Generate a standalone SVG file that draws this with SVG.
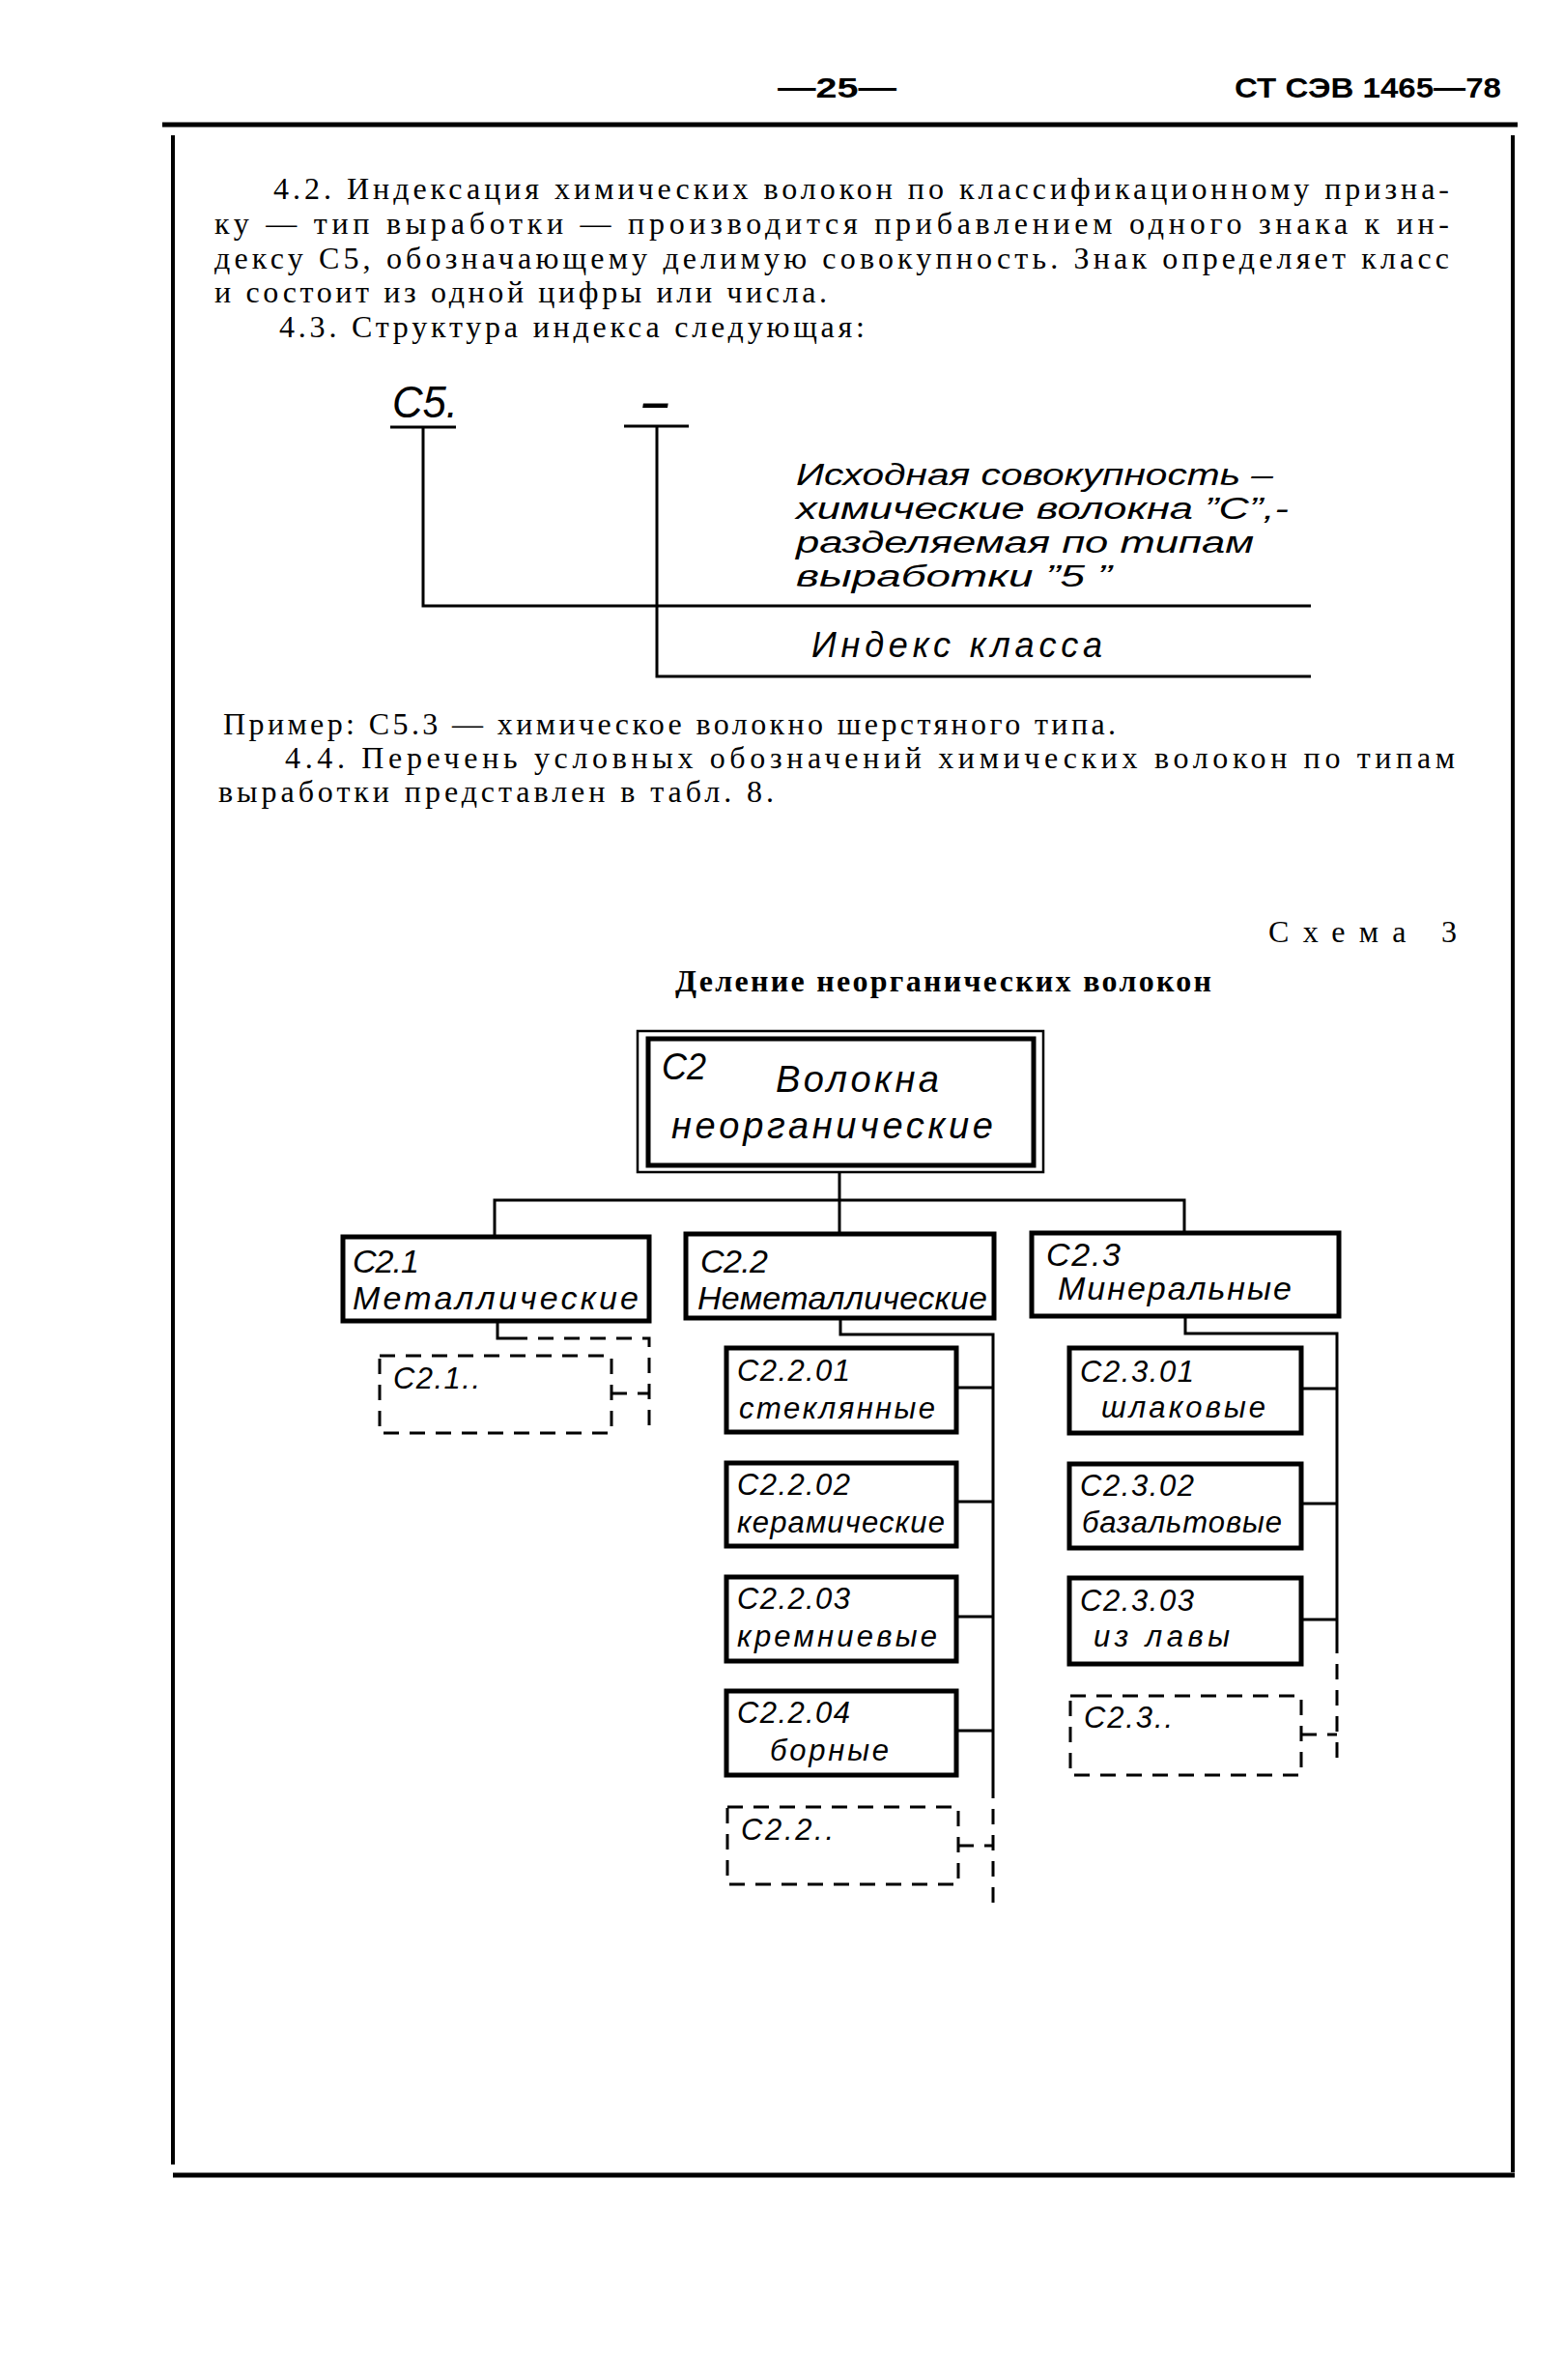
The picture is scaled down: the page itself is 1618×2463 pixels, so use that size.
<svg xmlns="http://www.w3.org/2000/svg" width="1618" height="2463" viewBox="0 0 1618 2463">
<style>
.body{font-family:"Liberation Serif",serif;font-size:32px;fill:#000}
.hd{font-family:"Liberation Sans",sans-serif;font-weight:bold;font-size:30px;fill:#000}
.hand{font-family:"Liberation Sans",sans-serif;font-style:italic;fill:#000}
.t36{font-size:36px}
.t38{font-size:38px}
.t34{font-size:34px}
.t31{font-size:31px}
.frame{stroke:#000;fill:none}
.ln{stroke:#000;stroke-width:3;fill:none}
.dl{stroke:#000;stroke-width:3;fill:none;stroke-dasharray:16 11}
.box{fill:#fff;stroke:#000;stroke-width:5}
.dbox{fill:#fff;stroke:#000;stroke-width:3;stroke-dasharray:16 11}
</style>
<rect width="1618" height="2463" fill="#fff"/>
<g id="page">
<text class="hd" x="805" y="101" font-size="32" font-weight="normal" textLength="123" lengthAdjust="spacingAndGlyphs">—25—</text>
<text class="hd" x="1278" y="101" font-size="34" textLength="276" lengthAdjust="spacingAndGlyphs">СТ СЭВ 1465—78</text>
<line class="frame" x1="168" y1="129" x2="1571" y2="129" stroke-width="5"/>
<line class="frame" x1="179" y1="140" x2="179" y2="2240" stroke-width="4"/>
<line class="frame" x1="1566" y1="140" x2="1566" y2="2248" stroke-width="4"/>
<line class="frame" x1="179" y1="2251" x2="1568" y2="2251" stroke-width="5"/>
</g>
<g id="text-top">
<text class="body" x="283" y="206" textLength="1217" lengthAdjust="spacing">4.2. Индексация химических волокон по классификационному призна-</text>
<text class="body" x="222" y="242" textLength="1278" lengthAdjust="spacing">ку — тип выработки — производится прибавлением одного знака к ин-</text>
<text class="body" x="222" y="278" textLength="1278" lengthAdjust="spacing">дексу С5, обозначающему делимую совокупность. Знак определяет класс</text>
<text class="body" x="222" y="313" textLength="634" lengthAdjust="spacing">и состоит из одной  цифры или числа.</text>
<text class="body" x="289" y="349" textLength="606" lengthAdjust="spacing">4.3. Структура индекса следующая:</text>
</g>
<g id="index-structure">
<text class="hand" x="406" y="432" font-size="46" textLength="68" lengthAdjust="spacingAndGlyphs">С5.</text>
<text class="hand" x="664" y="432" font-size="46" font-weight="bold" font-style="normal" textLength="29" lengthAdjust="spacingAndGlyphs">–</text>
<g id="label-source">
<text class="hand" font-size="31" x="824" y="502" textLength="494" lengthAdjust="spacingAndGlyphs">Исходная совокупность –</text>
<text class="hand" font-size="31" x="824" y="537" textLength="510" lengthAdjust="spacingAndGlyphs">химические волокна ”С”,-</text>
<text class="hand" font-size="31" x="824" y="572" textLength="474" lengthAdjust="spacingAndGlyphs">разделяемая по типам</text>
<text class="hand" font-size="31" x="824" y="607" textLength="327" lengthAdjust="spacingAndGlyphs">выработки ”5 ”</text>
</g>
<g id="label-class">
<text class="hand t36" x="840" y="680" textLength="301" lengthAdjust="spacing">Индекс класса</text>
</g>
</g>
<g id="connectors-structure">
<line class="ln" x1="404" y1="442" x2="472" y2="442" stroke-width="5"/>
<line class="ln" x1="646" y1="441" x2="713" y2="441" stroke-width="5"/>
<polyline class="ln" points="438,442 438,627 1357,627"/>
<polyline class="ln" points="680,441 680,700 1357,700"/>
</g>
<g id="text-middle">
<text class="body" x="231" y="760" textLength="924" lengthAdjust="spacing">Пример: С5.3 — химическое волокно шерстяного типа.</text>
<text class="body" x="295" y="795" textLength="1211" lengthAdjust="spacing">4.4. Перечень условных обозначений химических волокон по типам</text>
<text class="body" x="226" y="830" textLength="575" lengthAdjust="spacing">выработки представлен в табл. 8.</text>
<text class="body" x="1313" y="975" textLength="195" lengthAdjust="spacing">Схема 3</text>
<text class="body" x="699" y="1026" font-weight="bold" textLength="555" lengthAdjust="spacing">Деление неорганических волокон</text>
</g>
<g id="connectors">
<line class="ln" x1="869" y1="1213" x2="869" y2="1277"/>
<polyline class="ln" points="512,1280 512,1242 1226,1242 1226,1276"/>
<polyline class="ln" points="515,1367 515,1385 530,1385"/>
<polyline class="dl" points="530,1385 672,1385 672,1483"/>
<line class="dl" x1="633" y1="1442" x2="672" y2="1442"/>
<polyline class="ln" points="870,1364 870,1381 1028,1381 1028,1845"/>
<line class="dl" x1="1028" y1="1845" x2="1028" y2="1975"/>
<line class="ln" x1="990" y1="1436" x2="1028" y2="1436"/>
<line class="ln" x1="990" y1="1554" x2="1028" y2="1554"/>
<line class="ln" x1="990" y1="1673" x2="1028" y2="1673"/>
<line class="ln" x1="990" y1="1791" x2="1028" y2="1791"/>
<line class="dl" x1="992" y1="1910" x2="1028" y2="1910"/>
<polyline class="ln" points="1227,1362 1227,1380 1384,1380 1384,1695"/>
<line class="dl" x1="1384" y1="1695" x2="1384" y2="1830"/>
<line class="ln" x1="1347" y1="1437" x2="1384" y2="1437"/>
<line class="ln" x1="1347" y1="1556" x2="1384" y2="1556"/>
<line class="ln" x1="1347" y1="1676" x2="1384" y2="1676"/>
<line class="dl" x1="1347" y1="1795" x2="1384" y2="1795"/>
</g>
<g id="n-C2">
<rect x="660" y="1067" width="420" height="146" fill="#fff" stroke="#000" stroke-width="2.5"/>
<rect x="671" y="1075" width="399" height="131" fill="#fff" stroke="#000" stroke-width="5"/>
<text class="hand t38" x="685" y="1117" textLength="46" lengthAdjust="spacingAndGlyphs">С2</text>
<text class="hand t38" x="803" y="1130" textLength="169" lengthAdjust="spacing">Волокна</text>
<text class="hand t38" x="695" y="1178" textLength="333" lengthAdjust="spacing">неорганические</text>
</g>
<g id="n-C2.1">
<rect class="box" x="355" y="1280" width="317" height="87"/>
<text class="hand t34" x="365" y="1317" textLength="69" lengthAdjust="spacing">С2.1</text>
<text class="hand t34" x="365" y="1355" textLength="296" lengthAdjust="spacing">Металлические</text>
</g>
<g id="n-C2.1x">
<rect class="dbox" x="393" y="1403" width="240" height="80"/>
<text class="hand t31" x="407" y="1437" textLength="90" lengthAdjust="spacing">С2.1..</text>
</g>
<g id="n-C2.2">
<rect class="box" x="710" y="1277" width="319" height="87"/>
<text class="hand t34" x="725" y="1317" textLength="70" lengthAdjust="spacing">С2.2</text>
<text class="hand t34" x="722" y="1355" textLength="300" lengthAdjust="spacing">Неметаллические</text>
</g>
<g id="n-C2.2.01">
<rect class="box" x="752" y="1395" width="238" height="87"/>
<text class="hand t31" x="763" y="1429" textLength="117" lengthAdjust="spacing">С2.2.01</text>
<text class="hand t31" x="765" y="1468" textLength="203" lengthAdjust="spacing">стеклянные</text>
</g>
<g id="n-C2.2.02">
<rect class="box" x="752" y="1514" width="238" height="86"/>
<text class="hand t31" x="763" y="1547" textLength="117" lengthAdjust="spacing">С2.2.02</text>
<text class="hand t31" x="763" y="1586" textLength="215" lengthAdjust="spacing">керамические</text>
</g>
<g id="n-C2.2.03">
<rect class="box" x="752" y="1632" width="238" height="87"/>
<text class="hand t31" x="763" y="1665" textLength="117" lengthAdjust="spacing">С2.2.03</text>
<text class="hand t31" x="763" y="1704" textLength="207" lengthAdjust="spacing">кремниевые</text>
</g>
<g id="n-C2.2.04">
<rect class="box" x="752" y="1750" width="238" height="87"/>
<text class="hand t31" x="763" y="1783" textLength="117" lengthAdjust="spacing">С2.2.04</text>
<text class="hand t31" x="797" y="1822" textLength="123" lengthAdjust="spacing">борные</text>
</g>
<g id="n-C2.2x">
<rect class="dbox" x="753" y="1870" width="239" height="80"/>
<text class="hand t31" x="767" y="1904" textLength="96" lengthAdjust="spacing">С2.2..</text>
</g>
<g id="n-C2.3">
<rect class="box" x="1068" y="1276" width="318" height="86"/>
<text class="hand t34" x="1083" y="1310" textLength="77" lengthAdjust="spacing">С2.3</text>
<text class="hand t34" x="1095" y="1345" textLength="242" lengthAdjust="spacing">Минеральные</text>
</g>
<g id="n-C2.3.01">
<rect class="box" x="1107" y="1395" width="240" height="88"/>
<text class="hand t31" x="1118" y="1430" textLength="118" lengthAdjust="spacing">С2.3.01</text>
<text class="hand t31" x="1140" y="1467" textLength="170" lengthAdjust="spacing">шлаковые</text>
</g>
<g id="n-C2.3.02">
<rect class="box" x="1107" y="1515" width="240" height="87"/>
<text class="hand t31" x="1118" y="1548" textLength="118" lengthAdjust="spacing">С2.3.02</text>
<text class="hand t31" x="1120" y="1586" textLength="207" lengthAdjust="spacing">базальтовые</text>
</g>
<g id="n-C2.3.03">
<rect class="box" x="1107" y="1633" width="240" height="89"/>
<text class="hand t31" x="1118" y="1667" textLength="118" lengthAdjust="spacing">С2.3.03</text>
<text class="hand t31" x="1132" y="1704" textLength="141" lengthAdjust="spacing">из лавы</text>
</g>
<g id="n-C2.3x">
<rect class="dbox" x="1108" y="1755" width="239" height="82"/>
<text class="hand t31" x="1122" y="1788" textLength="92" lengthAdjust="spacing">С2.3..</text>
</g>
</svg>
